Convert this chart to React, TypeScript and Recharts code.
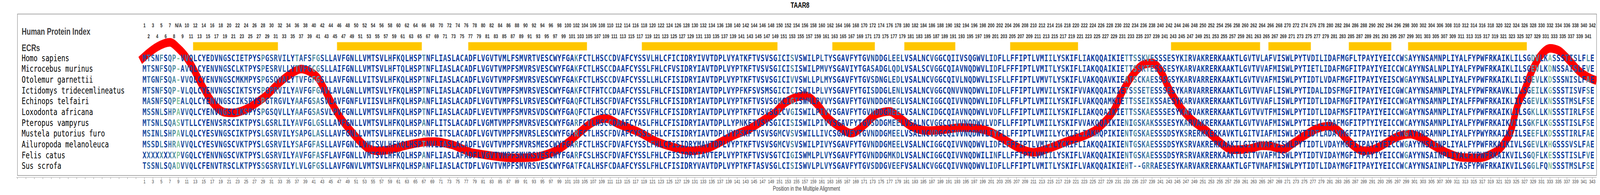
import React from "react";
import { ComposedChart, Line, Scatter, XAxis, YAxis, ReferenceArea, Label } from "recharts";

const speciesNames = [
  "Homo sapiens",
  "Microcebus murinus",
  "Otolemur garnettii",
  "Ictidomys tridecemlineatus",
  "Echinops telfairi",
  "Loxodonta africana",
  "Pteropus vampyrus",
  "Mustela putorius furo",
  "Ailuropoda melanoleuca",
  "Felis catus",
  "Sus scrofa",
];

// alignment rows, positions 1..343
const sequences = [
  "MTSNFSQP-VVQLCYEDVNGSCIETPYSPGSRVI" + "LYTAFSFGSLLAVFGNLLVMTSVLHFKQLHSPTNFLIAS" + "LACADFLVGVTVMLFSMVRTVESCWYFGAKFCTLHSCCD" +
    "VAFCYSSVLHLCFICIDRYIVVTDPLVYATKFTVSVS" + "GICISVSWILPLTYSGAVFYTGVNDDGLEELVSALNCVGG" + "CQIIVSQGWVLIDFLLFFIPTLVMIILYSKIFLIAKQQAI" +
    "KIETTSSKVESSSESYKIRVAKRERKAAKTLGVTVLAFVI" + "SWLPYTVDILIDAFMGFLTPAYIYEICCWSAYYNSAMNPLIY" + "ALFYPWFRKAIKLILSGDVLKASSSTISLFLE",
  "MTSNFSQP-AVQLCYENVNGSCLKTPYSPESRVL" + "LYTVFGCGSLLAIFGNLLVMTSVLHFTQLHSPTNFLIAS" + "LACADFLVGVTVMPFSMVRSVESCWYFGAKFCTLHSCCD" +
    "AAFCYSSLFHLCFVSIDRYIAVTDPLVYPTKFTVSVS" + "GICISISWILPMVYSGAVIYTGASADGLQDLVSALSCVGG" + "CQIAVNQDWVLIDFLFFFIPTLVMITLYSKIFLIAKQQAI" +
    "KIETTSSKTESSSESYKARVAKRERKAAKTLGVTVVAFMI" + "SWLPYTIETLIDAFMGFITPAYIYEICCWCAYYNSALNPLIY" + "ALFYPWFRKAIKLILSGEVLKDNSSAISLFVE",
  "MTGNFSQA-VVQLCYENVNGSCMKMPYSPGSQVA" + "LYTVFGFGSLLAVFGNLLVITSVLHFKQLHSPTNFLIAS" + "LACADFLVGVTVMPFSMVRSVESCWYFGAKFCTLHSCCD" +
    "VAFCYSSLLHLCFISIDRYIAVTDPLVYPTKFTVSVS" + "GICIVVSWLLPLMYSGAVFYTGVSDNGLEDLVSALNCVGG" + "CQIVLNQDWVLISFLLFFIPTLVMVTLYSKIFLVAKQQAV" +
    "KIEATSCKAESSSGSYKARVARRERKAAKTLGVTVVAFMI" + "SWLPYTIDTLVDAFMGFITPAYIYEISCWGAYYNSALNPLIY" + "ALFYPWFRKAIKLILSGEVLKDSSSNISLFAE",
  "MTSNFSQP-VLQLCYENVNGSCIKTSYSPGPRVI" + "LYAVFGFGAVLAVLGNLLVMTSVLYFKQLHSPTNFLIAS" + "LACADFLVGVTVMPFSMVRSVESCWYFGAKFCTFHTCCD" +
    "AAFCYSSLFHLCFISIDRYIAVTDPLVYPFKFSVSMS" + "GICICISWILPLVYSGAVFYTGISDDGLENLVSALNCVGG" + "CQNVVNQDWVLIDFLLFFIPTLVMVILYSKIFVVAKQQAI" +
    "KIETSSSETESSSESYKARVARRERKAAKTLGVTVVAFLI" + "SWLPYTIDALIDSFMGFITPAYIYEICGWCAYYNSAMNPLIY" + "ALFYPWFRKAVKLILSGEILKGSSSTISVFSE",
  "MASNFSQPEALQLCYENVNGSCIKSPYSPGTRGV" + "LYAAFGSASVLAVFGNFLVIISVLHFKQLHSPANFLIAS" + "LACADFLVGVTVMPFSLVRSVESCWYFGAQFCTLHSCFD" +
    "VAFCYSSLFHLCFISIDRYIAVTDPLVYPTKFTVSVS" + "GMCIGISWMLPVVYSGAVFYTGVNDDGMEGLVSALNCIGG" + "CQIVVNQDWVLIDFLLFFLPTLVMIILYSKIFLVAKQQAM" +
    "KIETTSSEIKSSAESYKARVAKRERKAAKTLGVTVVAFLI" + "SWLPYTIDTLIDAFMGFITPAYIYEICCWGAYYNSAMNPLIY" + "ALFFPWFRKAIKLILSGEVLKNSSSTMSLFSE",
  "MSSNLSHPAVVQLCYENVNGSCIKSPYSPGSQVL" + "LYAAFGSASVLPVFGNLLVMTSVLHFKQLHSPTNFLIAS" + "LACADFLVEVTVMPFSMVRSVDSCWYFGAQFCTLHSCCD" +
    "VAFCYSSVFHLCFISIDRYIAVTDPLVYPTKFTVSVS" + "GICVGISWILPIVYSGAVFYTGVNDDGMEELVSALNCIDG" + "CQIAVNQDWVLVDFLLFFIPTLVMIILYSKIFLIAKQQAI" +
    "KIETTSSKAESSSESYKARVAKRERKAAKTLGVTVVTFMI" + "SWLPYTIDTLIDAFMSFITPAYIYEICCWGAYYNSAMNPLIY" + "ALFYPWFRKAIKLILSGKLLKNSSSTIRLFSE",
  "MTSNLSQASVTLLCYENVSRSCIKTPYSLGSRLI" + "LYAVFGLGSLLAVFGNLLVMTSVLHFKQLHSPANFLITS" + "LACADFLVGMTVMPFSMVRSVESCWYFGARFCTLHSCCD" +
    "AAFCYASLFHLCFISIDRYIAVTDPLLYPNKFTVSVS" + "GICISISWILPIVYSGAVFYTGVSDDGMEELVSALNCVGG" + "CQIVVNQDWVLVDFLLFFIPTLVMIILYSKIFVVAKQQAI" +
    "KIENIGSKAKSSSESYKARVAKRERKAAKTLGVTVVAFMI" + "SWLPYTIETLIDAFMGFITPTYIYEICCWCAYYNSAMNPLIY" + "ALFYPWFRKAIKVILSGKFLKGSSSTISLFSE",
  "MSINLSHPAVLQLCYESVNGSCIKTPYSLGSRVI" + "LYSAPGLASLLAVFGNLLVMTSVLHFKELHSPANFLITS" + "LACADFLVGVTVMPFSMVRSLESCWYFGARFCTLHSCFD" +
    "VAFCYSSLFHLCFISIDRYIAVTDPLVYPSKFTVSVS" + "GMCVSVSWILLIVCSGAVFYTGVNDDGMEELVSALNCVDG" + "CQIVVNQDWVLIYFLLFFIPTLVMIILYCKIFLIAKHQPI" +
    "KIENTGSKAESSSDSYKSRERKKERKAVKTLGITVIAFMI" + "SWLPYTIDTLADAYMGFITPAYIYEICCWGAYYNSAMNPLIY" + "ALFYPWYRKAIKIILSEEFLKDSSSTIRLFAE",
  "MSSDLSHRAVVQLCYESVNGSCVKTPYSLGSRVI" + "LYSAFGFASLLAVFGNLLVMTSVLHFKQLHSPTNVLIAS" + "LACADFLVGVTVMPFSMVRSMESCWYFGARFCTLHSCFD" +
    "VAFCYSSLFHLCFISIDRYMAVTDPLVYPTKFTVSVS" + "GMCVSVSWILPIVYSGAVFYTGVNDDGMEELVSALNCIGG" + "CQIVVNQDWVLIDFLFFFIPTLVMIILYCKIFLIAKQQAI" +
    "KIENTGSKAESSSDSYKSRVAKRERKAAKTLGITVVAFVI" + "SWLPYTIDTLVDAYMGFITPAYIYEICCWGAYYNSAINPLIY" + "ALFYPWFRKAIKIVLSGEVLKHGSSSVSLFAE",
  "XXXXXXXXPVGQLCYENVNGSCVKTPYSLGSRVI" + "LYAVFGFASFLAVFGNLLVMTSVLHFKQLHSPANFLIAS" + "LAFADFLVGVTVMPFSMVRSVESCWYFGARFCSLHSCFD" +
    "VAFCYSSLFHLCFISIDRYIAVTEPLVYPTKFTVSVS" + "GTCIGISWMLPLVYSGAVFYTGVNDDGMKDLVSALNCIGG" + "CQIVVNQDWILINFLLFFIPTLVMIILYSKIFLVAKQQAI" +
    "KIENTGSKAESSSDSYRSRVAKRERKAAKTLGITVVAFMI" + "SWLPYTIDTVIDAYMGFITPAYIYEICCWGAYYNSAINPLIY" + "ALFYPWFRKAIKVILSGQFLKESSSTISLFVE",
  "TSSNLSQADVVQLCFENVTRSCLKTPYSSGSRVI" + "LYLVLGFGSLLAVFGNVLVMTSVLHFKQLHSPANFLIAS" + "LACTDFLVGVTVMPFSMVRSVESCWYFGATFCALHSFCD" +
    "AAFCYSSLFHLCFISIDRYVAVTDPLVYPTKFTASVS" + "GLCISISWVLPLVYSGAVFYTGVSDDGVEEFVSALNCVGG" + "CQIVVNQDWVLIDFLLFFIPTLVMITLYSKIFLVAKQQAI" +
    "KIEHT--GRRAESESYKARVAKRERKAAKTLGFTVMAFMI" + "SWLPYTIDTLIDAYMGFITPAYIYEICCWCAYYNSAINPLIY" + "ASFYPWFRKAIKVILSGGLFQNSSSTMSLFSE",
];

const headings = ["Human Protein Index", "ECRs"];

// evolutionarily conserved regions (alignment positions)
const ecrStarts = [13, 47, 78, 119, 164, 181, 206, 244, 267, 286, 300];
const ecrEnds = [32, 66, 105, 150, 173, 192, 221, 264, 276, 295, 327];

// relative substitution score
const scorePositions = [
  0, 2, 4, 7, 9, 11, 12, 14, 16, 18, 20, 22, 24, 26, 28, 30, 32, 34, 36, 38, 40, 42, 44, 46, 48, 50, 52, 54, 56, 58,
  60, 62, 64, 66, 68, 70, 72, 74, 76, 78, 80, 83, 88, 93, 96, 99, 101, 104, 107, 110, 113, 118, 122, 126, 130, 134,
  137, 140, 144, 148, 150, 152, 154, 157, 160, 162, 165, 168, 171, 174, 177, 179, 182, 186, 190, 194, 198, 200, 203,
  207, 211, 215, 219, 223, 226, 228, 230, 232, 235, 237, 239, 241, 243, 246, 249, 252, 255, 258, 262, 265, 267, 270,
  272, 275, 278, 281, 283, 286, 289, 291, 294, 297, 300, 302, 305, 309, 312, 316, 319, 322, 324, 325, 327, 329, 331,
  333, 335, 337, 340, 342, 344,
];
const scoreValues = [
  2.28, 2.43, 2.55, 2.64, 2.52, 2.33, 2.2, 1.88, 1.58, 1.36, 1.25, 1.24, 1.28, 1.36, 1.47, 1.6, 1.77, 1.92, 2.04, 2.11,
  2.06, 1.93, 1.63, 1.32, 1.06, 0.86, 0.67, 0.53, 0.49, 0.5, 0.53, 0.58, 0.62, 0.65, 0.67, 0.67, 0.64, 0.6, 0.53, 0.46,
  0.43, 0.39, 0.35, 0.36, 0.42, 0.53, 0.65, 0.87, 1.06, 1.13, 1.02, 0.85, 0.67, 0.56, 0.49, 0.54, 0.66, 0.79, 0.93, 1.14,
  1.25, 1.42, 1.52, 1.58, 1.4, 1.18, 0.97, 0.84, 1.0, 1.22, 1.27, 1.17, 0.98, 0.89, 0.91, 0.95, 0.93, 0.89, 0.77, 0.57,
  0.46, 0.55, 0.68, 0.79, 0.92, 1.08, 1.3, 1.66, 2.05, 2.2, 2.23, 2.08, 1.72, 1.32, 1.06, 0.88, 0.66, 0.51, 0.53, 0.59,
  0.58, 0.52, 0.62, 0.79, 0.93, 0.98, 0.89, 0.63, 0.49, 0.51, 0.63, 0.77, 0.82, 0.77, 0.62, 0.44, 0.36, 0.35, 0.42, 0.62,
  0.95, 1.3, 1.7, 2.12, 2.4, 2.52, 2.48, 2.33, 2.06, 1.95, 1.88,
];

const scoreTicks = [0, 0.2, 0.4, 0.6, 0.8, 1.0, 1.2, 1.4, 1.6, 1.8, 2.0, 2.2, 2.4, 2.6, 2.8, 3.0, 3.2];

const W = 5590;
const H = 500;
const FIRST_ROW = 4;
const NAME_POS = -28;

const xTicks: number[] = [];
for (let p = -29; p <= 343; p += 2) xTicks.push(p);

// residue classes used to shade each column by how much it varies
const GROUP: Record<string, number> = {
  A: 0, V: 0, L: 0, I: 0, M: 0, F: 1, W: 1, Y: 1, S: 2, T: 2, N: 2, Q: 2,
  K: 3, R: 3, H: 3, D: 4, E: 4, G: 5, P: 6, C: 7, "-": 8,
};
const PALETTE = ["#0b389e", "#0f3e9f", "#1948a0", "#2958a4", "#3d70a8", "#5790a5", "#8cc59f"];

function columnColor(i: number) {
  const col = sequences.map((s) => s[i]).filter((c) => c && c !== "X");
  let sum = 0;
  let n = 0;
  for (let a = 0; a < col.length; a++) {
    for (let b = a + 1; b < col.length; b++) {
      n++;
      if (col[a] === col[b]) continue;
      sum += GROUP[col[a]] === GROUP[col[b]] ? 0.5 : 1;
    }
  }
  const d = n ? sum / n : 0;
  if (d === 0) return PALETTE[0];
  if (d < 0.1) return PALETTE[1];
  if (d < 0.22) return PALETTE[2];
  if (d < 0.38) return PALETTE[3];
  if (d < 0.52) return PALETTE[4];
  if (d < 0.75) return PALETTE[5];
  return PALETTE[6];
}

const alnLength = sequences[0].length;
const colColors = Array.from({ length: alnLength }, (_, i) => columnColor(i));

const letterData = sequences.flatMap((seq, r) =>
  seq.split("").map((ch, i) => ({ pos: i + 1, row: FIRST_ROW + r, ch, color: colColors[i] }))
);

let humanIdx = 0;
const indexData = sequences[0].split("").map((ch, i) => {
  if (ch !== "-") humanIdx++;
  return { pos: i + 1, row: i % 2 === 0 ? 1 : 2, label: ch === "-" ? "N/A" : String(humanIdx) };
});

const nameData = speciesNames.map((name, r) => ({ pos: NAME_POS, row: FIRST_ROW + r, label: name }));
const headingData = [
  { pos: NAME_POS, row: 1.53, label: headings[0] },
  { pos: NAME_POS, row: 3.07, label: headings[1] },
];

const scoreData = scorePositions.map((p, i) => ({ pos: p, score: scoreValues[i] }));

const LetterShape = (p: any) => (
  <text x={p.cx} y={p.cy} dy="0.36em" textAnchor="middle" fontFamily="'DejaVu Sans Mono', monospace"
    fontWeight="bold" fontSize={23} fill={p.payload.color}>
    {p.payload.ch}
  </text>
);

const IndexShape = (p: any) => (
  <text x={p.cx} y={p.cy} dy="0.36em" textAnchor="middle" fontFamily="'Liberation Sans', Arial, sans-serif"
    fontWeight="bold" fontSize={14} fill="#333">
    {p.payload.label}
  </text>
);

const NameShape = (p: any) => (
  <text x={p.cx} y={p.cy} dy="0.36em" textAnchor="start" fontFamily="'DejaVu Sans Mono', monospace"
    fontSize={23} fill="#000">
    {p.payload.label}
  </text>
);

const HeadingShape = (p: any) => (
  <text x={p.cx} y={p.cy} dy="0.36em" textAnchor="start" fontFamily="'Liberation Sans', Arial, sans-serif"
    fontWeight="bold" fontSize={24} fill="#404040">
    {p.payload.label}
  </text>
);

const YTitle = (props: any) => {
  const vb = props.viewBox ?? { x: 17, y: 36, width: 40, height: 419 };
  const x = vb.x + 3;
  const y = vb.y + vb.height / 2;
  return (
    <text x={x} y={y} dy="0.36em" transform={`rotate(-90 ${x} ${y})`} textAnchor="middle"
      fontFamily="'Liberation Sans', Arial, sans-serif" fontSize={16} fill="#444">
      Relative Substitution Score
    </text>
  );
};

const XTitle = (props: any) => {
  const vb = props.viewBox ?? { x: 57, y: 455, width: 5521, height: 45 };
  return (
    <text x={vb.x + vb.width / 2} y={vb.y + 28} dy="0.36em" textAnchor="middle"
      fontFamily="'Liberation Sans', Arial, sans-serif" fontSize={16} fill="#444">
      Position in the Multiple Alignment
    </text>
  );
};

const tickFont = { fontSize: 13, fill: "#444", fontFamily: "'Liberation Sans', Arial, sans-serif" };

export default function App() {
  // the browser window may be narrower than the chart; squeeze horizontally so the whole chart is visible
  const fit = typeof window !== "undefined" && window.innerWidth > 0 ? Math.min(1, window.innerWidth / W) : 1;
  return (
    <div style={{ position: "fixed", left: 0, top: 0, width: "100vw", height: "100vh", overflow: "hidden", background: "#fff" }}>
      <div style={{ position: "absolute", left: 0, top: 0, width: W, height: H, transform: `scaleX(${fit})`, transformOrigin: "0 0" }}>
        <ComposedChart width={W} height={H} margin={{ top: 36, right: 12, bottom: 0, left: 17 }}>
          <XAxis dataKey="pos" type="number" domain={[-29.27, 344]} allowDataOverflow ticks={xTicks} interval={0}
            tickFormatter={(v: number) => (v >= 1 ? String(v) : "")} tickSize={4} tickMargin={2}
            stroke="#8c8c8c" tick={tickFont} height={45}>
            <Label content={<XTitle />} />
          </XAxis>
          <YAxis yAxisId="score" type="number" domain={[-0.0386, 3.2]} allowDataOverflow ticks={scoreTicks}
            interval={0} tickFormatter={(v: number) => v.toFixed(1)} tickSize={5} tickMargin={1} width={40}
            stroke="#8c8c8c" tick={{ ...tickFont, fill: "#555" }}>
            <Label content={<YTitle />} />
          </YAxis>
          <YAxis yAxisId="rows" dataKey="row" type="number" domain={[-0.06, 15.08]} allowDataOverflow reversed hide />

          <ReferenceArea yAxisId="score" x1={-29} x2={344} y1={0} y2={3.2} fill="none" stroke="#8c8c8c"
            strokeWidth={1.5} />
          {ecrStarts.map((s, i) => (
            <ReferenceArea key={i} yAxisId="rows" x1={s - 0.5} x2={ecrEnds[i] + 0.5} y1={2.55} y2={3.3}
              fill="#ffc600" fillOpacity={1} stroke="#ffd84d" strokeWidth={1} />
          ))}

          <Line yAxisId="score" data={scoreData} dataKey="score" type="monotone" stroke="#ff0000" strokeWidth={22}
            dot={false} activeDot={false} isAnimationActive={false} strokeLinejoin="round" />

          <Scatter yAxisId="rows" data={headingData} dataKey="row" shape={HeadingShape} isAnimationActive={false} />
          <Scatter yAxisId="rows" data={indexData} dataKey="row" shape={IndexShape} isAnimationActive={false} />
          <Scatter yAxisId="rows" data={nameData} dataKey="row" shape={NameShape} isAnimationActive={false} />
          <Scatter yAxisId="rows" data={letterData} dataKey="row" shape={LetterShape} isAnimationActive={false} />
        </ComposedChart>
        <div style={{ position: "absolute", left: 0, top: 0, width: W, textAlign: "center", fontFamily: "'Liberation Sans', Arial, sans-serif", fontWeight: "bold", fontSize: 20, lineHeight: "26px", color: "#000" }}>
          TAAR8
        </div>
      </div>
    </div>
  );
}
